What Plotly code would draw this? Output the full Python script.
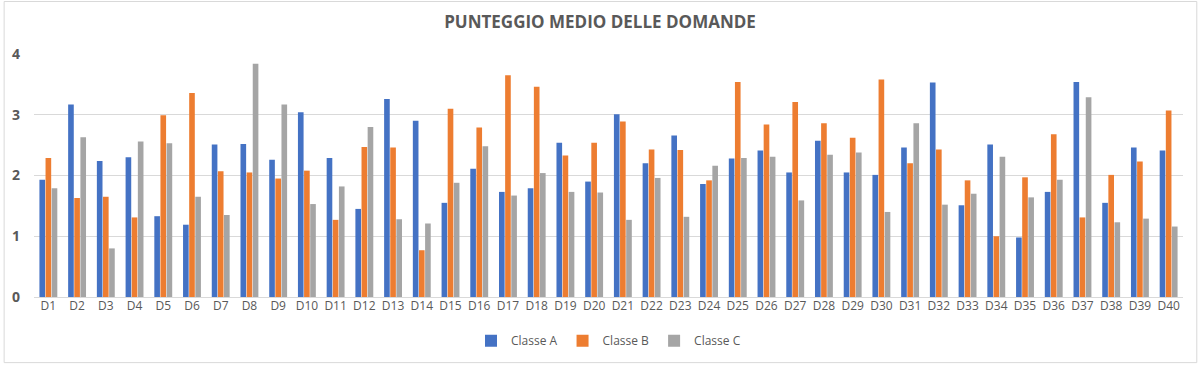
import plotly.graph_objects as go

categories = [f"D{i}" for i in range(1, 41)]

classe_a = [1.93, 3.17, 2.24, 2.30, 1.33, 1.19, 2.51, 2.52, 2.26, 3.04,
            2.29, 1.45, 3.26, 2.90, 1.55, 2.11, 1.73, 1.79, 2.54, 1.90,
            3.01, 2.20, 2.66, 1.86, 2.28, 2.41, 2.05, 2.57, 2.05, 2.01,
            2.46, 3.53, 1.51, 2.51, 0.98, 1.73, 3.54, 1.55, 2.46, 2.41]
classe_b = [2.29, 1.63, 1.65, 1.31, 2.99, 3.36, 2.07, 2.05, 1.95, 2.08,
            1.27, 2.47, 2.46, 0.77, 3.10, 2.79, 3.65, 3.46, 2.33, 2.54,
            2.89, 2.43, 2.42, 1.92, 3.54, 2.84, 3.21, 2.86, 2.62, 3.58,
            2.20, 2.43, 1.92, 1.00, 1.97, 2.68, 1.31, 2.01, 2.23, 3.07]
classe_c = [1.79, 2.63, 0.80, 2.56, 2.53, 1.65, 1.35, 3.84, 3.17, 1.53,
            1.82, 2.80, 1.28, 1.21, 1.88, 2.48, 1.67, 2.04, 1.73, 1.72,
            1.27, 1.96, 1.32, 2.16, 2.29, 2.31, 1.59, 2.34, 2.38, 1.40,
            2.86, 1.52, 1.70, 2.31, 1.64, 1.93, 3.29, 1.23, 1.29, 1.16]

series = [("Classe A", classe_a, "#4472C4"),
          ("Classe B", classe_b, "#ED7D31"),
          ("Classe C", classe_c, "#A5A5A5")]

txt = "#595959"
fig = go.Figure()
for name, vals, col in series:
    fig.add_trace(go.Bar(x=categories, y=vals, name=name,
                         marker=dict(color=col, line=dict(width=0))))

fig.update_layout(
    width=1200, height=367,
    margin=dict(l=31, r=17, t=54, b=68),
    paper_bgcolor="white", plot_bgcolor="white",
    font=dict(family="Open Sans, Liberation Sans, sans-serif", color=txt, size=12),
    title=dict(text="<b>PUNTEGGIO MEDIO DELLE DOMANDE</b>", x=0.5, xanchor="center",
               y=0.94, yanchor="middle", font=dict(size=17, color=txt)),
    barmode="group", bargap=0.36, bargroupgap=0.08,
    legend=dict(orientation="h", x=0.5, xanchor="center", y=-0.18, yanchor="middle",
                bgcolor="rgba(0,0,0,0)", font=dict(size=12, color=txt),
                itemwidth=30, traceorder="normal"),
    xaxis=dict(showgrid=False, showline=False, ticks="", tickfont=dict(size=12, color=txt)),
    yaxis=dict(range=[0, 4], dtick=1, showgrid=True, gridcolor="#d9d9d9", gridwidth=1,
               zeroline=True, zerolinecolor="#d9d9d9", zerolinewidth=1,
               tickfont=dict(size=14, color=txt, family="Open Sans, sans-serif", weight="bold"),
               ticklabelstandoff=13),
    shapes=[dict(type="rect", xref="paper", yref="paper",
                 x0=-0.026, x1=1.012, y0=-0.27, y1=1.216,
                 line=dict(color="#d9d9d9", width=1))],
)
fig.write_html("out.html", config={"displayModeBar": False},
               post_script="document.body.style.margin='0';")
